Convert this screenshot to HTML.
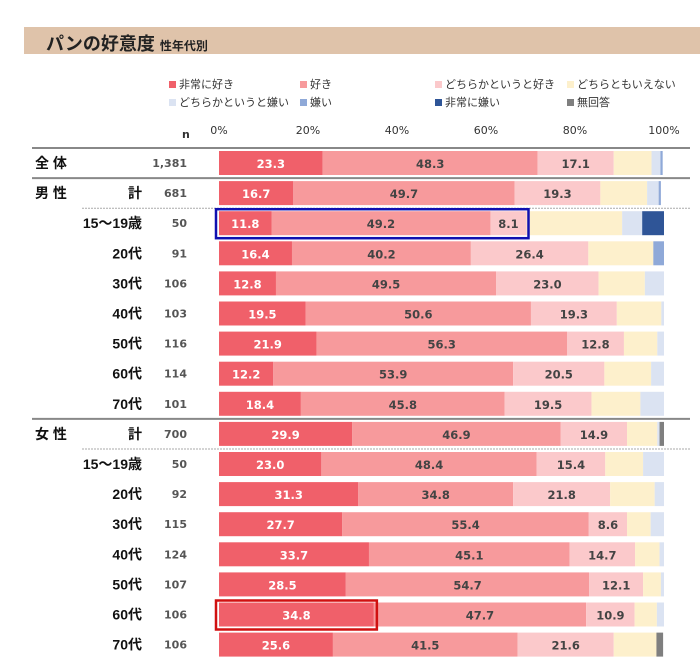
<!DOCTYPE html>
<html><head><meta charset="utf-8"><style>
body{margin:0;width:700px;height:662px;background:#fff;overflow:hidden;font-family:"Liberation Sans","Noto Sans CJK JP",sans-serif;}
#wrap{position:relative;width:700px;height:662px;}
.t{position:absolute;white-space:nowrap;}
</style></head><body>
<div id="wrap">
<div class="t" style="left:24px;top:27px;width:676px;height:27px;background:#dfc3aa;"></div>
<div class="t" style="left:46px;top:30px;font-size:18px;font-weight:bold;color:#222;">パンの好意度 <span style="font-size:12px">性年代別</span></div>
<svg id="svg" width="700" height="662" style="position:absolute;left:0;top:0"></svg>
</div>
<script>
const categories=["全体","男性計","15〜19歳","20代","30代","40代","50代","60代","70代","女性計","15〜19歳","20代","30代","40代","50代","60代","70代"];
const nValues=["1,381","681","50","91","106","103","116","114","101","700","50","92","115","124","107","106","106"];
const seriesNames=["非常に好き","好き","どちらかというと好き","どちらともいえない","どちらかというと嫌い","嫌い","非常に嫌い","無回答"];
const verygood=[23.3,16.7,11.8,16.4,12.8,19.5,21.9,12.2,18.4,29.9,23.0,31.3,27.7,33.7,28.5,34.8,25.6];
const good=[48.3,49.7,49.2,40.2,49.5,50.6,56.3,53.9,45.8,46.9,48.4,34.8,55.4,45.1,54.7,47.7,41.5];
const somewhatGood=[17.1,19.3,8.1,26.4,23.0,19.3,12.8,20.5,19.5,14.9,15.4,21.8,8.6,14.7,12.1,10.9,21.6];
const neutral=[8.5,10.5,21.5,14.6,10.4,10.0,7.5,10.5,11.0,6.8,8.5,10.0,5.3,5.5,4.0,5.0,9.6];
const somewhatBad=[2.0,2.6,4.5,0,4.3,0.6,1.5,2.9,5.3,0.5,4.7,2.1,3.0,1.0,0.7,1.6,0];
const bad=[0.5,0.5,0,2.4,0,0,0,0,0,0,0,0,0,0,0,0,0];
const veryBad=[0,0,4.9,0,0,0,0,0,0,0,0,0,0,0,0,0,0];
const noAnswer=[0,0,0,0,0,0,0,0,0,1.0,0,0,0,0,0,0,1.5];
const ticks=[0,20,40,60,80,100];
const colors=["#f0606a","#f79a9c","#fbc9cb","#fdf0cc","#dbe3f2","#8fa9d8","#2f5597","#7f7f7f"];
const series=[verygood,good,somewhatGood,neutral,somewhatBad,bad,veryBad,noAnswer];
const NS="http://www.w3.org/2000/svg";
const svg=document.getElementById('svg');
const X0=219,X1=664;
const x=v=>X0+(X1-X0)*v/100;
const rowY=i=>150+i*30.1;
function mk(tag,a){const e=document.createElementNS(NS,tag);for(const k in a)e.setAttribute(k,a[k]);svg.appendChild(e);return e;}
const legX=[169,300,435,567],legY=[87,105];
seriesNames.forEach((s,i)=>{
 const lx=legX[i%4],ly=legY[Math.floor(i/4)];
 const r=mk('rect',{x:lx,y:ly-6,width:7,height:7,fill:colors[i]});
 
 
 const t=mk('text',{x:lx+10,y:ly+1,'font-size':11,fill:'#333'});t.textContent=s;
 
 
});
ticks.forEach(v=>{const t=mk('text',{x:x(v),y:134,'font-size':11,fill:'#333','text-anchor':'middle','font-family':'DejaVu Sans'});t.textContent=v+'%';
 
 });
const nl=mk('text',{x:182,y:138,'font-size':11,fill:'#333','font-family':'DejaVu Sans','font-weight':'bold'});nl.textContent='n';


[[0,'solid'],[1,'solid'],[2,'dot'],[9,'solid'],[10,'dot']].forEach(([i,st])=>{
 const y=rowY(i)-2;
 const l=mk('line',{x1:st=='solid'?32:82,x2:690,y1:y,y2:y,stroke:st=='solid'?'#888':'#aaa','stroke-width':st=='solid'?2:1,'stroke-dasharray':st=='solid'?'':'2,1'});
 
 
});
categories.forEach((c,i)=>{
 const y=rowY(i),cy=y+13;
 if(i==0||i==1||i==9){
  const main=i==0?'全 体':(i==1?'男 性':'女 性');
  const t=mk('text',{x:35,y:cy+5,'font-size':14,'font-weight':'bold',fill:'#111'});t.textContent=main;
  
  
  if(i!=0){const k=mk('text',{x:142,y:cy+5,'font-size':14,'font-weight':'bold',fill:'#111','text-anchor':'end'});k.textContent='計';
   
   }
 }else{
  const t=mk('text',{x:142,y:cy+5,'font-size':14,'font-weight':'bold',fill:'#111','text-anchor':'end'});t.textContent=c;
  
  
 }
 const n=mk('text',{x:187,y:cy+4,'font-size':11,'font-weight':'bold',fill:'#555','text-anchor':'end','font-family':'DejaVu Sans'});n.textContent=nValues[i];
 
 
 let acc=0;
 series.forEach((s,j)=>{
  const v=s[i];if(v<=0)return;
  const r=mk('rect',{x:x(acc),y:y+1,width:x(acc+v)-x(acc),height:24,fill:colors[j]});
  
  
  if(j<3){const t=mk('text',{x:(x(acc)+x(acc+v))/2,y:cy+5,'font-size':11.5,'font-weight':'bold',fill:j==0?'#fff':'#444','text-anchor':'middle','font-family':'DejaVu Sans'});t.textContent=v.toFixed(1);
   
   }
  acc+=v;
 });
});
const b1=mk('rect',{x:216,y:rowY(2)-1,width:x(verygood[2]+good[2]+somewhatGood[2])-216+2,height:29,fill:'none',stroke:'#1010b0','stroke-width':2.5});


const b2=mk('rect',{x:216,y:rowY(15)-1,width:x(verygood[15])-216+3,height:29,fill:'none',stroke:'#d01010','stroke-width':2.5});


</script>
</body></html>
